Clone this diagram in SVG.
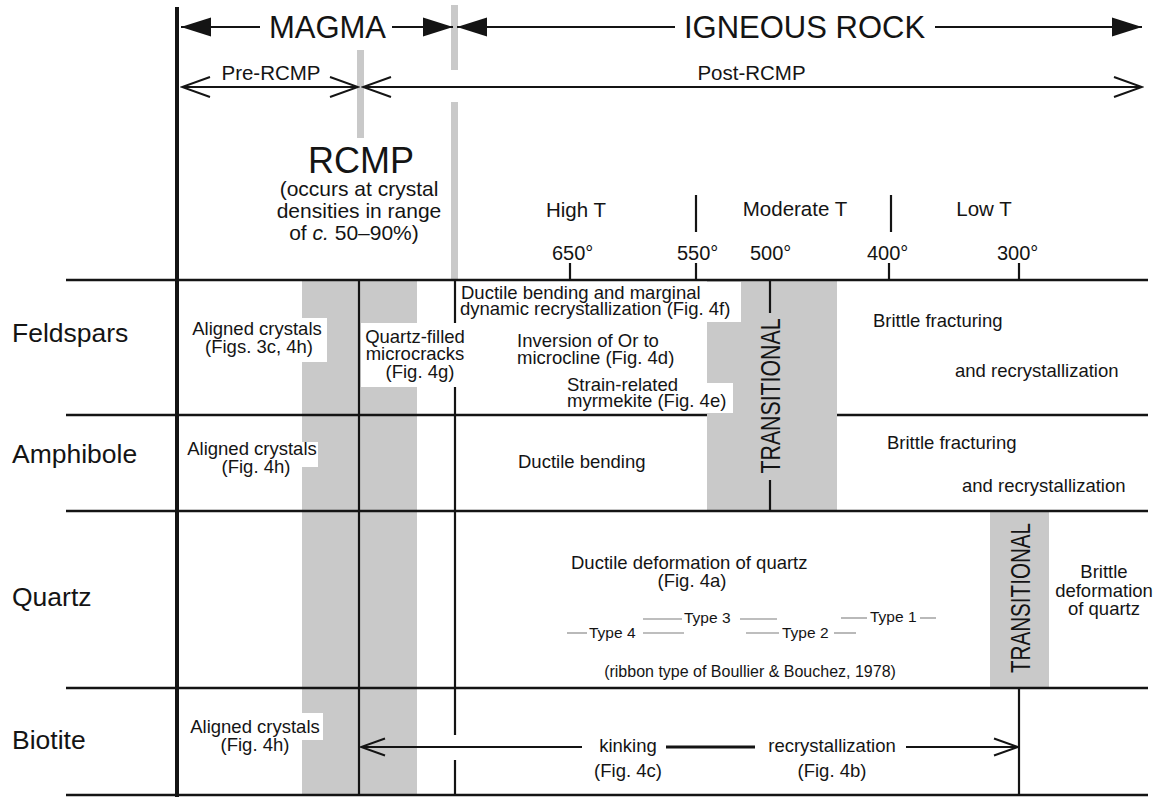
<svg xmlns="http://www.w3.org/2000/svg" width="1155" height="798" viewBox="0 0 1155 798">
<style>
text { font-family: "Liberation Sans", Arial, Helvetica, sans-serif; fill: #141414; }
.lbl { font-size: 18.5px; }
.row { font-size: 26.5px; }
.hdr { font-size: 31px; }
.sub { font-size: 20.5px; }
.deg { font-size: 20px; }
.typ { font-size: 15.5px; }
.rib { font-size: 16px; }
.rc { font-size: 21px; }
.trans { font-size: 27px; }
.mid { text-anchor: middle; }
.ln { stroke: #141414; stroke-width: 2.5; fill: none; }
.vl { stroke: #141414; stroke-width: 2.2; fill: none; }
.ar { stroke: #141414; stroke-width: 2; fill: none; }
.gray { fill: #c9c9c9; }
.wb { fill: #ffffff; }
.tl { stroke: #a8a8a8; stroke-width: 1.6; }
</style>
<defs>
<marker id="fillArrow" viewBox="0 -10 30 20" refX="30" refY="0" markerWidth="30" markerHeight="20" markerUnits="userSpaceOnUse" orient="auto-start-reverse">
<path d="M0,-9.5 L30,0 L0,9.5 Z" fill="#141414"/>
</marker>
<marker id="openArrow" viewBox="-2 -12 32 24" refX="28" refY="0" markerWidth="32" markerHeight="24" markerUnits="userSpaceOnUse" orient="auto-start-reverse">
<path d="M0,-10 L28,0 L0,10" fill="none" stroke="#141414" stroke-width="2"/>
</marker>
<marker id="openArrowS" viewBox="-2 -10 28 20" refX="24" refY="0" markerWidth="28" markerHeight="20" markerUnits="userSpaceOnUse" orient="auto-start-reverse">
<path d="M0,-8.5 L24,0 L0,8.5" fill="none" stroke="#141414" stroke-width="2"/>
</marker>
</defs>
<rect x="0" y="0" width="1155" height="798" fill="#ffffff"/>

<!-- gray bands -->
<g id="bands">
<rect class="gray" x="451" y="5" width="7" height="65"/>
<rect class="gray" x="451" y="102" width="7" height="178"/>
<rect class="gray" x="357" y="50" width="7" height="88"/>
<rect class="gray" x="302" y="280" width="115" height="515"/>
<rect class="gray" x="707" y="280" width="130" height="231"/>
<rect class="gray" x="990" y="511" width="59" height="177"/>
</g>

<!-- white label backgrounds -->
<g id="label-boxes">
<rect class="wb" x="185" y="318" width="142" height="44"/>
<rect class="wb" x="361" y="323" width="107" height="64"/>
<rect class="wb" x="458" y="282" width="283" height="40"/>
<rect class="wb" x="565" y="383" width="168" height="30"/>
<rect class="wb" x="185" y="442" width="133" height="25"/>
<rect class="wb" x="185" y="713" width="138" height="27"/>
</g>

<!-- grid -->
<g id="grid">
<line class="ln" x1="66" y1="280" x2="1148" y2="280"/>
<line class="ln" x1="66" y1="415" x2="707" y2="415"/>
<line class="ln" x1="837" y1="415" x2="1148" y2="415"/>
<line class="ln" x1="66" y1="511" x2="1148" y2="511"/>
<line class="ln" x1="66" y1="688" x2="1148" y2="688"/>
<line class="ln" x1="66" y1="795" x2="1148" y2="795"/>
<line x1="177" y1="7" x2="177" y2="797" stroke="#141414" stroke-width="4"/>
<line class="vl" x1="359" y1="280" x2="359" y2="795"/>
<line class="vl" x1="455" y1="280" x2="455" y2="323"/>
<line class="vl" x1="455" y1="387" x2="455" y2="735"/>
<line class="vl" x1="455" y1="760" x2="455" y2="795"/>
<line class="vl" x1="770" y1="280" x2="770" y2="313"/>
<line class="vl" x1="770" y1="480" x2="770" y2="511"/>
<line class="vl" x1="1019" y1="688" x2="1019" y2="795"/>
<!-- temperature ticks -->
<line class="vl" x1="570" y1="263" x2="570" y2="280"/>
<line class="vl" x1="696" y1="263" x2="696" y2="280"/>
<line class="vl" x1="889" y1="263" x2="889" y2="280"/>
<line class="vl" x1="1019" y1="263" x2="1019" y2="280"/>
<line class="vl" x1="696" y1="195" x2="696" y2="232"/>
<line class="vl" x1="891" y1="195" x2="891" y2="232"/>
</g>

<!-- connectors / arrows -->
<g id="connectors">
<line class="ar" x1="181" y1="27" x2="260" y2="27" marker-start="url(#fillArrow)"/>
<line class="ar" x1="392" y1="27" x2="453" y2="27" marker-end="url(#fillArrow)"/>
<line class="ar" x1="457" y1="27" x2="675" y2="27" marker-start="url(#fillArrow)"/>
<line class="ar" x1="935" y1="27" x2="1142" y2="27" marker-end="url(#fillArrow)"/>
<line class="ar" x1="182" y1="87" x2="358" y2="87" marker-start="url(#openArrow)" marker-end="url(#openArrow)"/>
<line class="ar" x1="363" y1="87" x2="1142" y2="87" marker-start="url(#openArrow)" marker-end="url(#openArrow)"/>
<line class="ar" x1="361" y1="747" x2="582" y2="747" marker-start="url(#openArrowS)"/>
<line x1="666" y1="747" x2="755" y2="747" stroke="#141414" stroke-width="3"/>
<line class="ar" x1="906" y1="747" x2="1018" y2="747" marker-end="url(#openArrowS)"/>
<!-- ribbon type lines -->
<line class="tl" x1="567" y1="633" x2="587" y2="633"/>
<line class="tl" x1="643" y1="633" x2="684" y2="633"/>
<line class="tl" x1="643" y1="619" x2="682" y2="619"/>
<line class="tl" x1="740" y1="619" x2="777" y2="619"/>
<line class="tl" x1="746" y1="633" x2="779" y2="633"/>
<line class="tl" x1="834" y1="633" x2="856" y2="633"/>
<line class="tl" x1="841" y1="618" x2="867" y2="618"/>
<line class="tl" x1="920" y1="618" x2="936" y2="618"/>
</g>

<!-- header -->
<g id="header-magma">
<text class="hdr mid" x="327.5" y="38">MAGMA</text>
</g>
<g id="header-igneous">
<text class="hdr mid" x="804.5" y="38">IGNEOUS ROCK</text>
</g>
<g id="header-pre">
<text class="sub mid" x="271" y="80">Pre-RCMP</text>
</g>
<g id="header-post">
<text class="sub mid" x="751.5" y="80">Post-RCMP</text>
</g>
<g id="rcmp">
<text class="mid" x="361" y="173" style="font-size:36px">RCMP</text>
<text class="rc mid" x="359" y="196">(occurs at crystal</text>
<text class="rc mid" x="359" y="218">densities in range</text>
<text class="rc mid" x="354" y="240">of <tspan font-style="italic">c.</tspan> 50–90%)</text>
</g>
<g id="temperature">
<text class="sub mid" x="576" y="217">High T</text>
<text class="sub mid" x="795" y="216">Moderate T</text>
<text class="sub mid" x="984" y="216">Low T</text>
<text class="deg" x="552" y="260">650°</text>
<text class="deg" x="677" y="260">550°</text>
<text class="deg" x="750" y="260">500°</text>
<text class="deg" x="867" y="260">400°</text>
<text class="deg" x="997" y="260">300°</text>
</g>

<!-- row labels -->
<g id="row-feldspars">
<text class="row" x="12" y="342">Feldspars</text>
<text class="lbl mid" x="257" y="335">Aligned crystals</text>
<text class="lbl mid" x="259" y="353">(Figs. 3c, 4h)</text>
<text class="lbl mid" x="415" y="343">Quartz-filled</text>
<text class="lbl mid" x="415" y="360">microcracks</text>
<text class="lbl mid" x="420" y="378">(Fig. 4g)</text>
<text class="lbl" x="461" y="299">Ductile bending and marginal</text>
<text class="lbl" x="460" y="315">dynamic recrystallization (Fig. 4f)</text>
<text class="lbl" x="517" y="347">Inversion of Or to</text>
<text class="lbl" x="517" y="364">microcline (Fig. 4d)</text>
<text class="lbl" x="567" y="391">Strain-related</text>
<text class="lbl" x="567" y="407">myrmekite (Fig. 4e)</text>
<text class="lbl" x="873" y="327">Brittle fracturing</text>
<text class="lbl" x="955" y="377">and recrystallization</text>
</g>
<g id="row-amphibole">
<text class="row" x="12" y="463">Amphibole</text>
<text class="lbl mid" x="252" y="455">Aligned crystals</text>
<text class="lbl mid" x="256" y="473">(Fig. 4h)</text>
<text class="lbl" x="518" y="468">Ductile bending</text>
<text class="lbl" x="887" y="449">Brittle fracturing</text>
<text class="lbl" x="962" y="492">and recrystallization</text>
</g>
<g id="transitional-1">
<text class="trans mid" transform="translate(770,396) rotate(-90)" x="0" y="9.5" textLength="155" lengthAdjust="spacingAndGlyphs">TRANSITIONAL</text>
</g>
<g id="row-quartz">
<text class="row" x="12" y="606">Quartz</text>
<text class="lbl" x="571" y="569">Ductile deformation of quartz</text>
<text class="lbl mid" x="692" y="587">(Fig. 4a)</text>
<text class="typ" x="589" y="638">Type 4</text>
<text class="typ" x="684" y="623">Type 3</text>
<text class="typ" x="782" y="638">Type 2</text>
<text class="typ" x="870" y="622">Type 1</text>
<text class="rib mid" x="750" y="677">(ribbon type of Boullier &amp; Bouchez, 1978)</text>
<text class="lbl mid" x="1104" y="578">Brittle</text>
<text class="lbl mid" x="1104" y="597">deformation</text>
<text class="lbl mid" x="1104" y="615">of quartz</text>
</g>
<g id="transitional-2">
<text class="trans mid" transform="translate(1020,598) rotate(-90)" x="0" y="9.5" textLength="150" lengthAdjust="spacingAndGlyphs">TRANSITIONAL</text>
</g>
<g id="row-biotite">
<text class="row" x="12" y="749">Biotite</text>
<text class="lbl mid" x="255" y="733">Aligned crystals</text>
<text class="lbl mid" x="255" y="751">(Fig. 4h)</text>
<text class="lbl mid" x="628" y="752">kinking</text>
<text class="lbl mid" x="628" y="777">(Fig. 4c)</text>
<text class="lbl mid" x="832" y="752">recrystallization</text>
<text class="lbl mid" x="832" y="777">(Fig. 4b)</text>
</g>
</svg>
